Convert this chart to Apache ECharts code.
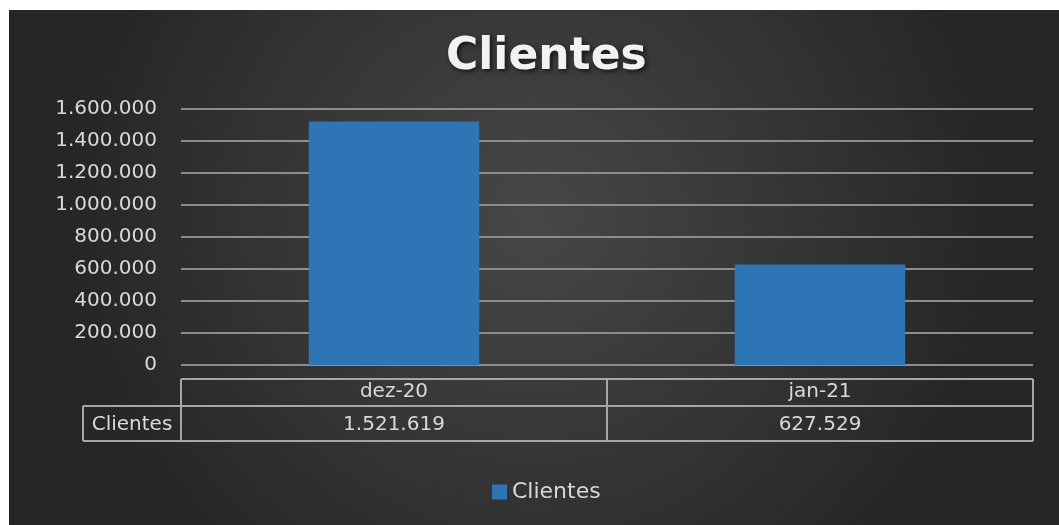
<!DOCTYPE html>
<html>
<head>
<meta charset="utf-8">
<script src="https://cdn.jsdelivr.net/npm/echarts@6/dist/echarts.min.js"></script>
<style>
  html, body { margin: 0; padding: 0; background: #fff; }
  #chart { position: absolute; left: 9px; top: 10px; width: 1050px; height: 515px; }
</style>
</head>
<body>
<div id="chart"></div>
<script>
const categories = ['dez-20', 'jan-21']
const seriesName = 'Clientes'
const clientes = [1521619, 627529]
const yMin = 0
const yMax = 1600000
const yStep = 200000

const FONT = 'DejaVu Sans'
const TEXT_COLOR = '#d9d9d9'
const LINE_COLOR = '#8c8c8c'
const TABLE_COLOR = '#a6a6a6'
const BAR_COLOR = '#2e75b6'

const GRID = { left: 172, right: 26, top: 99, bottom: 160 }

const fmt = v => String(v).replace(/\B(?=(\d{3})+(?!\d))/g, '.')

const chart = echarts.init(document.getElementById('chart'))

const option = {
  backgroundColor: {
    type: 'radial', x: 0.5, y: 0.4, r: 0.9,
    colorStops: [{ offset: 0, color: '#474747' }, { offset: 1, color: '#262626' }]
  },
  title: {
    text: 'Clientes',
    left: 432,
    top: 21,
    textStyle: {
      fontFamily: FONT,
      fontSize: 44,
      fontWeight: 'bold',
      color: '#f2f2f2',
      textShadowColor: 'rgba(0,0,0,0.7)',
      textShadowBlur: 5,
      textShadowOffsetX: 2,
      textShadowOffsetY: 2
    }
  },
  legend: {
    bottom: 17,
    left: 478,
    icon: 'rect',
    itemWidth: 15,
    itemHeight: 15,
    itemGap: 8,
    textStyle: { fontFamily: FONT, fontSize: 22, color: TEXT_COLOR },
    data: [seriesName]
  },
  grid: GRID,
  xAxis: {
    type: 'category',
    data: categories,
    axisLine: { show: false },
    axisTick: { show: false },
    axisLabel: { margin: 17, fontFamily: FONT, fontSize: 20, color: TEXT_COLOR }
  },
  yAxis: {
    type: 'value',
    min: yMin,
    max: yMax,
    interval: yStep,
    axisLine: { show: false },
    axisTick: { show: false },
    axisLabel: {
      margin: 24,
      fontFamily: FONT,
      fontSize: 20,
      color: TEXT_COLOR,
      formatter: v => fmt(v)
    },
    splitLine: { show: true, lineStyle: { color: LINE_COLOR, width: 2 } }
  },
  series: [{
    name: seriesName,
    type: 'bar',
    barWidth: '40%',
    itemStyle: { color: BAR_COLOR },
    data: clientes
  }]
}
chart.setOption(option)

// tabela de dados abaixo do eixo
function drawTable() {
  const w = chart.getWidth()
  const h = chart.getHeight()
  const x0 = GRID.left
  const x1 = w - GRID.right
  const yBase = h - GRID.bottom
  const rowTop = yBase + 14
  const rowMid = yBase + 41
  const rowBot = yBase + 76
  const headLeft = x0 - 98
  const band = (x1 - x0) / categories.length
  const line = (ax, ay, bx, by) => ({
    type: 'line',
    shape: { x1: ax, y1: ay, x2: bx, y2: by },
    style: { stroke: TABLE_COLOR, lineWidth: 2 },
    silent: true
  })
  const elements = [
    line(x0, rowTop, x1, rowTop),
    line(headLeft, rowMid, x1, rowMid),
    line(headLeft, rowBot, x1, rowBot),
    line(headLeft, rowMid, headLeft, rowBot),
    line(x0, rowTop, x0, rowBot)
  ]
  categories.forEach((c, i) => {
    elements.push(line(x0 + band * (i + 1), rowTop, x0 + band * (i + 1), rowBot))
    const cx = chart.convertToPixel({ xAxisIndex: 0 }, c)
    elements.push({
      type: 'text',
      x: cx,
      y: (rowMid + rowBot) / 2 + 1,
      style: {
        text: fmt(clientes[i]),
        font: '20px "' + FONT + '"',
        fill: TEXT_COLOR,
        align: 'center',
        verticalAlign: 'middle'
      },
      silent: true
    })
  })
  elements.push({
    type: 'text',
    x: (headLeft + x0) / 2,
    y: (rowMid + rowBot) / 2 + 1,
    style: {
      text: seriesName,
      font: '20px "' + FONT + '"',
      fill: TEXT_COLOR,
      align: 'center',
      verticalAlign: 'middle'
    },
    silent: true
  })
  chart.setOption({ graphic: { elements } })
}
drawTable()
</script>
</body>
</html>
